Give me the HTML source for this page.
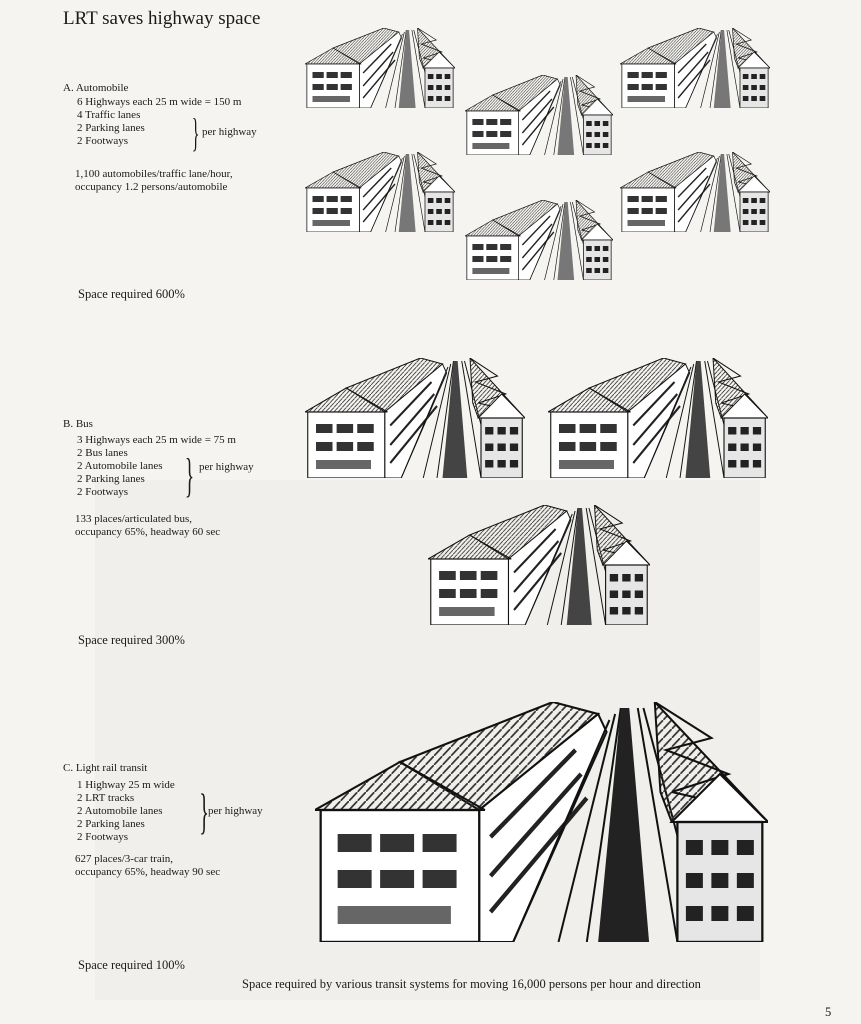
<!DOCTYPE html>
<html><head><meta charset="utf-8"><style>
body{margin:0;background:#f5f4f0;}
#p{position:relative;width:861px;height:1024px;overflow:hidden;background:#f5f4f0;font-family:"Liberation Serif",serif;color:#1a1a1a;}
.t{position:absolute;font-size:11px;line-height:13px;white-space:nowrap;}
.h{position:absolute;font-size:12.5px;white-space:nowrap;}
.br{position:absolute;font-size:11px;}
svg.s{position:absolute;}
</style></head><body><div id="p">
<div style="position:absolute;left:95px;top:480px;width:665px;height:520px;background:#f0efeb;"></div>
<svg width="0" height="0" style="position:absolute">
<defs>
<pattern id="hx" width="3" height="3" patternUnits="userSpaceOnUse"><path d="M0 3L3 0" stroke="#333" stroke-width="0.6"/></pattern>
<symbol id="st" viewBox="0 0 160 80" preserveAspectRatio="none">
<polygon points="30,20 84,0 100,4 58,36" fill="url(#hx)" stroke="#111" stroke-width="0.7"/>
<polygon points="58,36 100,4 103,10 70,80 58,80" fill="#fff" stroke="#111" stroke-width="0.7"/>
<g stroke="#222" stroke-width="1.5"><line x1="62" y1="45" x2="92" y2="16"/><line x1="62" y1="58" x2="94" y2="24"/><line x1="62" y1="70" x2="96" y2="32"/></g>
<polygon points="0,36 30,20 60,36" fill="url(#hx)" stroke="#111" stroke-width="0.7"/>
<rect x="2" y="36" width="56" height="44" fill="#fff" stroke="#111" stroke-width="0.8"/>
<g fill="#333"><rect x="8" y="44" width="12" height="6"/><rect x="23" y="44" width="12" height="6"/><rect x="38" y="44" width="12" height="6"/><rect x="8" y="56" width="12" height="6"/><rect x="23" y="56" width="12" height="6"/><rect x="38" y="56" width="12" height="6"/><rect x="8" y="68" width="40" height="6" fill="#666"/></g>
<g stroke="#111" stroke-width="0.7" fill="none"><line x1="70" y1="80" x2="104" y2="6"/><line x1="86" y1="80" x2="106" y2="4"/><line x1="96" y1="80" x2="108" y2="2"/><line x1="138" y1="80" x2="116" y2="2"/><line x1="128" y1="80" x2="114" y2="2"/></g>
<polygon points="100,80 118,80 111,2 108,2" fill="currentColor"/>
<polygon points="120,0 130,10 160,40 126,40 122,30" fill="url(#hx)" stroke="#111" stroke-width="0.7"/>
<polyline points="120,0 140,12 124,16 146,24 126,30 154,36" fill="none" stroke="#111" stroke-width="0.7"/>
<polygon points="126,40 143,24 160,40" fill="#fff" stroke="#111" stroke-width="0.7"/>
<rect x="128" y="40" width="30" height="40" fill="#e6e6e6" stroke="#111" stroke-width="0.8"/>
<g fill="#222"><rect x="131" y="46" width="6" height="5"/><rect x="140" y="46" width="6" height="5"/><rect x="149" y="46" width="6" height="5"/><rect x="131" y="57" width="6" height="5"/><rect x="140" y="57" width="6" height="5"/><rect x="149" y="57" width="6" height="5"/><rect x="131" y="68" width="6" height="5"/><rect x="140" y="68" width="6" height="5"/><rect x="149" y="68" width="6" height="5"/></g>
</symbol>
</defs></svg>
<svg class="s" style="left:305px;top:28px;color:#777" width="150" height="80"><use href="#st" width="150" height="80"/></svg>
<svg class="s" style="left:620px;top:28px;color:#777" width="150" height="80"><use href="#st" width="150" height="80"/></svg>
<svg class="s" style="left:465px;top:75px;color:#777" width="148" height="80"><use href="#st" width="148" height="80"/></svg>
<svg class="s" style="left:305px;top:152px;color:#777" width="150" height="80"><use href="#st" width="150" height="80"/></svg>
<svg class="s" style="left:620px;top:152px;color:#777" width="150" height="80"><use href="#st" width="150" height="80"/></svg>
<svg class="s" style="left:465px;top:200px;color:#777" width="148" height="80"><use href="#st" width="148" height="80"/></svg>
<svg class="s" style="left:305px;top:358px;color:#444" width="220" height="120"><use href="#st" width="220" height="120"/></svg>
<svg class="s" style="left:548px;top:358px;color:#444" width="220" height="120"><use href="#st" width="220" height="120"/></svg>
<svg class="s" style="left:428px;top:505px;color:#444" width="222" height="120"><use href="#st" width="222" height="120"/></svg>
<svg class="s" style="left:315px;top:702px;color:#222" width="453" height="240"><use href="#st" width="453" height="240"/></svg>

<div style="position:absolute;left:63px;top:8px;font-size:19px;">LRT saves highway space</div>
<div class="t" style="left:63px;top:82px">A. Automobile</div>
<div class="t" style="left:77px;top:96px">6 Highways each 25 m wide = 150 m<br>4 Traffic lanes<br>2 Parking lanes<br>2 Footways</div>
<div class="br" style="left:186px;top:108px;font-size:40px;line-height:50px;font-weight:100;transform:scaleX(0.4)">}</div>
<div class="t" style="left:202px;top:126px">per highway</div>
<div class="t" style="left:75px;top:168px">1,100 automobiles/traffic lane/hour,<br>occupancy 1.2 persons/automobile</div>
<div class="h" style="left:78px;top:287px">Space required 600%</div>

<div class="t" style="left:63px;top:418px">B. Bus</div>
<div class="t" style="left:77px;top:434px">3 Highways each 25 m wide = 75 m<br>2 Bus lanes<br>2 Automobile lanes<br>2 Parking lanes<br>2 Footways</div>
<div class="br" style="left:178px;top:448px;font-size:48px;line-height:56px;transform:scaleX(0.4)">}</div>
<div class="t" style="left:199px;top:461px">per highway</div>
<div class="t" style="left:75px;top:513px">133 places/articulated bus,<br>occupancy 65%, headway 60 sec</div>
<div class="h" style="left:78px;top:633px">Space required 300%</div>

<div class="t" style="left:63px;top:762px">C. Light rail transit</div>
<div class="t" style="left:77px;top:779px">1 Highway 25 m wide<br>2 LRT tracks<br>2 Automobile lanes<br>2 Parking lanes<br>2 Footways</div>
<div class="br" style="left:192px;top:782px;font-size:50px;line-height:58px;transform:scaleX(0.4)">}</div>
<div class="t" style="left:208px;top:805px">per highway</div>
<div class="t" style="left:75px;top:853px">627 places/3-car train,<br>occupancy 65%, headway 90 sec</div>
<div class="h" style="left:78px;top:958px">Space required 100%</div>
<div class="h" style="left:242px;top:977px">Space required by various transit systems for moving 16,000 persons per hour and direction</div>
<div class="h" style="left:825px;top:1005px">5</div>
</div></body></html>
